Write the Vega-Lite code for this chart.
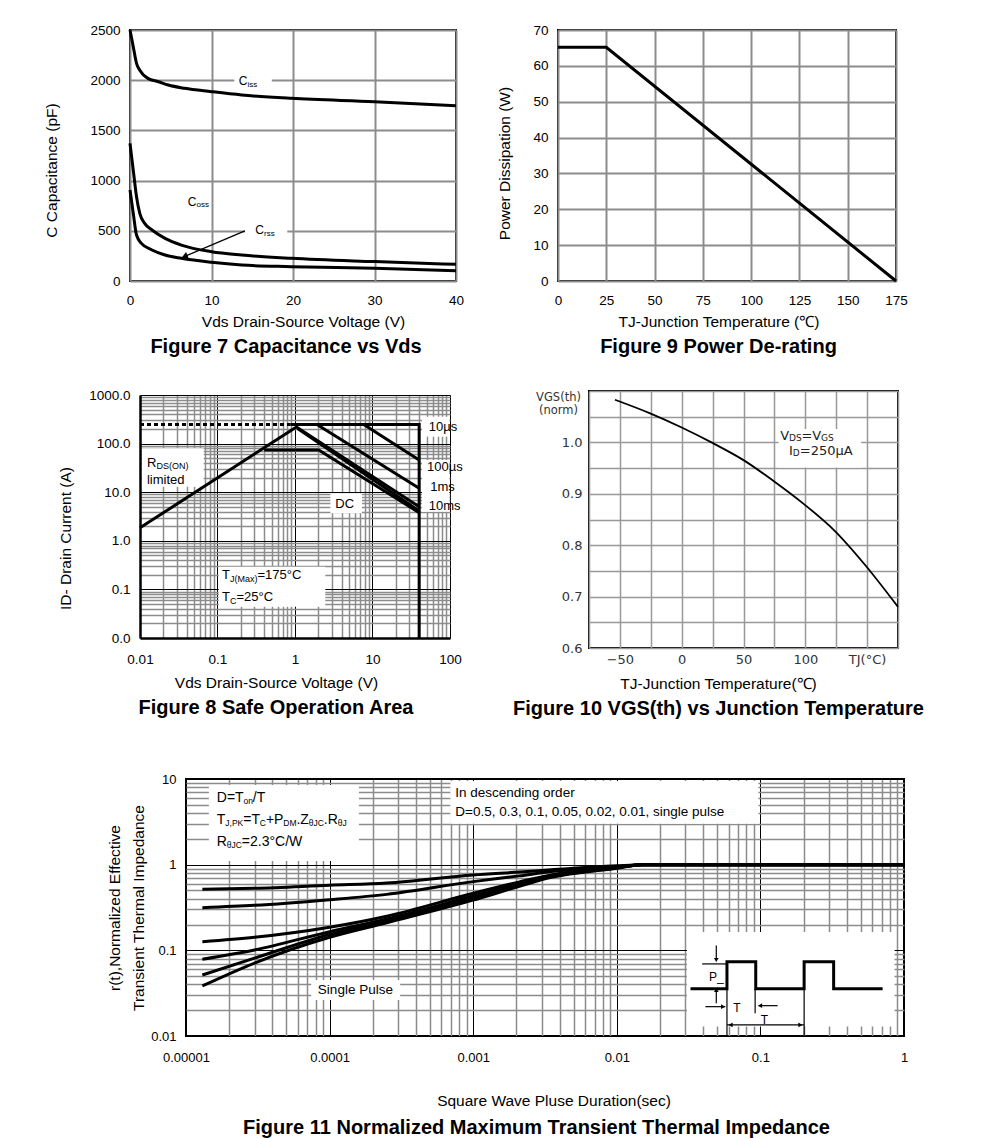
{
"$schema": "https://vega.github.io/schema/vega-lite/v6.json",
"background": "white",
"padding": {"left": 43, "top": 22, "right": 0, "bottom": 0},
"bounds": "flush",
"spacing": 361,
"vconcat": [
{"hconcat": [
{
"width": 326, "height": 251,
"title": {"text": "Figure 7 Capacitance vs Vds", "dx": -7},
"layer": [
{"data": {"values": [{"x":12.8,"x2":17.4,"y":1920,"y2":2080},{"x":14.1,"x2":19.3,"y":430,"y2":580}]},
"mark": {"type": "rect", "fill": "white"},
"encoding": {
"x": {"field": "x", "type": "quantitative", "scale": {"domain": [0, 40], "nice": false}, "axis": {"values": [0,10,20,30,40], "title": "Vds Drain-Source Voltage (V)", "titleX": 173, "titlePadding": 8, "labelPadding": 12}},
"x2": {"field": "x2"},
"y": {"field": "y", "type": "quantitative", "scale": {"domain": [0, 2500], "nice": false}, "axis": {"values": [0,500,1000,1500,2000,2500], "format": "d", "title": "C Capacitance (pF)", "titleY": 140, "titlePadding": 30}},
"y2": {"field": "y2"}}},
{"data": {"values": [
{"s":"Ciss","x":0,"y":2500},{"s":"Ciss","x":0.4,"y":2334},{"s":"Ciss","x":0.8,"y":2168},{"s":"Ciss","x":1.2,"y":2100},{"s":"Ciss","x":2.2,"y":2018},{"s":"Ciss","x":3.5,"y":1985},{"s":"Ciss","x":4.7,"y":1952},{"s":"Ciss","x":6.7,"y":1919},{"s":"Ciss","x":10,"y":1886},{"s":"Ciss","x":13.7,"y":1853},{"s":"Ciss","x":19.8,"y":1819},{"s":"Ciss","x":30,"y":1786},{"s":"Ciss","x":40,"y":1746},
{"s":"Coss","x":0,"y":1371},{"s":"Coss","x":0.4,"y":1105},{"s":"Coss","x":0.8,"y":840},{"s":"Coss","x":1.2,"y":674},{"s":"Coss","x":1.8,"y":574},{"s":"Coss","x":2.7,"y":508},{"s":"Coss","x":4.3,"y":425},{"s":"Coss","x":6.3,"y":358},{"s":"Coss","x":10,"y":292},{"s":"Coss","x":13.7,"y":259},{"s":"Coss","x":19.8,"y":226},{"s":"Coss","x":30,"y":193},{"s":"Coss","x":40,"y":166},
{"s":"Crss","x":0,"y":906},{"s":"Crss","x":0.4,"y":674},{"s":"Crss","x":0.8,"y":458},{"s":"Crss","x":1.4,"y":375},{"s":"Crss","x":2.7,"y":309},{"s":"Crss","x":4.3,"y":259},{"s":"Crss","x":6.3,"y":226},{"s":"Crss","x":10,"y":186},{"s":"Crss","x":13.7,"y":159},{"s":"Crss","x":19.8,"y":143},{"s":"Crss","x":30,"y":126},{"s":"Crss","x":40,"y":103}
]},
"mark": {"type": "line", "color": "black", "strokeWidth": 3, "interpolate": "monotone"},
"encoding": {"x": {"field": "x", "type": "quantitative"}, "y": {"field": "y", "type": "quantitative"}, "detail": {"field": "s", "type": "nominal"}}},
{"data": {"values": [{"x":14.1,"y":500,"x2":6.8,"y2":248}]},
"mark": {"type": "rule", "color": "black", "strokeWidth": 1.3},
"encoding": {"x": {"field": "x", "type": "quantitative"}, "y": {"field": "y", "type": "quantitative"}, "x2": {"field": "x2"}, "y2": {"field": "y2"}}},
{"data": {"values": [{"x":6.7,"y":245}]},
"mark": {"type": "point", "shape": "triangle-up", "angle": 247, "filled": true, "color": "black", "size": 50, "opacity": 1},
"encoding": {"x": {"field": "x", "type": "quantitative"}, "y": {"field": "y", "type": "quantitative"}}},
{"data": {"values": [{"x":13.34,"y":1992,"t":"C"},{"x":7.08,"y":790,"t":"C"},{"x":15.37,"y":508,"t":"C"}]},
"mark": {"type": "text", "align": "left", "baseline": "middle", "fontSize": 12, "color": "black"},
"encoding": {"x": {"field": "x", "type": "quantitative"}, "y": {"field": "y", "type": "quantitative"}, "text": {"field": "t"}}},
{"data": {"values": [{"x":14.42,"y":1957,"t":"iss"},{"x":8.16,"y":757,"t":"oss"},{"x":16.44,"y":473,"t":"rss"}]},
"mark": {"type": "text", "align": "left", "baseline": "middle", "fontSize": 8, "color": "black"},
"encoding": {"x": {"field": "x", "type": "quantitative"}, "y": {"field": "y", "type": "quantitative"}, "text": {"field": "t"}}}
]},
{
"width": 338, "height": 251,
"title": {"text": "Figure 9 Power De-rating", "dx": -8.5},
"data": {"values": [{"x":0,"y":65.2},{"x":25,"y":65.2},{"x":175,"y":0}]},
"mark": {"type": "line", "color": "black", "strokeWidth": 3},
"encoding": {
"x": {"field": "x", "type": "quantitative", "scale": {"domain": [0, 175], "nice": false}, "axis": {"values": [0,25,50,75,100,125,150,175], "title": "TJ-Junction Temperature (℃)", "titleX": 160.5, "titlePadding": 8, "labelPadding": 12}},
"y": {"field": "y", "type": "quantitative", "scale": {"domain": [0, 70], "nice": false}, "axis": {"values": [0,10,20,30,40,50,60,70], "format": "d", "title": "Power Dissipation (W)", "titleY": 133, "titlePadding": 20}}}}
], "spacing": 102, "bounds": "flush"},
{"vconcat": [
{"hconcat": [
{"width": 10, "height": 1, "data": {"values": []}, "mark": "point", "view": {"stroke": null}},
{"hconcat": [
{"vconcat": [
{"width": 10, "height": 4, "data": {"values": []}, "mark": "point", "view": {"stroke": null}},
{
"width": 310, "height": 243,
"view": {"stroke": null},
"title": {"text": "Figure 8 Safe Operation Area", "dx": -19},
"layer": [
{"data": {"values": [{"x":0.0106,"x2":0.0664,"y":13,"y2":80},{"x":2.86,"x2":7.32,"y":3.68,"y2":9.49},{"x":0.1036,"x2":2.46,"y":0.044,"y2":0.293},{"x":43.5,"x2":98,"y":138.7,"y2":357},{"x":43.5,"x2":98,"y":3.97,"y2":46}]},
"mark": {"type": "rect", "fill": "white"},
"encoding": {
"x": {"field": "x", "type": "quantitative", "scale": {"type": "log", "domain": [0.01, 100]}, "axis": {"values": [0.01,0.02,0.03,0.04,0.05,0.06,0.07,0.08,0.09,0.1,0.2,0.3,0.4,0.5,0.6,0.7,0.8,0.9,1,2,3,4,5,6,7,8,9,10,20,30,40,50,60,70,80,90,100], "format": "~f", "labelExpr": "abs(log(datum.value)/LN10-round(log(datum.value)/LN10))<0.001 ? datum.label : ''", "gridColor": {"condition": {"test": "abs(log(datum.value)/LN10-round(log(datum.value)/LN10))<0.001", "value": "black"}, "value": "#8c8c8c"}, "gridWidth": {"condition": {"test": "abs(log(datum.value)/LN10-round(log(datum.value)/LN10))<0.001", "value": 1}, "value": 1.5}, "domain": true, "domainColor": "black", "domainWidth": 2.5, "title": "Vds Drain-Source Voltage (V)", "titleX": 136, "titlePadding": 10, "labelPadding": 14}},
"x2": {"field": "x2"},
"y": {"field": "y", "type": "quantitative", "scale": {"type": "log", "domain": [0.01, 1000]}, "axis": {"values": [0.01,0.02,0.03,0.04,0.05,0.06,0.07,0.08,0.09,0.1,0.2,0.3,0.4,0.5,0.6,0.7,0.8,0.9,1,2,3,4,5,6,7,8,9,10,20,30,40,50,60,70,80,90,100,200,300,400,500,600,700,800,900,1000], "format": ".1f", "labelExpr": "abs(log(datum.value)/LN10-round(log(datum.value)/LN10))<0.001 ? datum.label : ''", "gridColor": {"condition": {"test": "abs(log(datum.value)/LN10-round(log(datum.value)/LN10))<0.001", "value": "black"}, "value": "#8c8c8c"}, "gridWidth": {"condition": {"test": "abs(log(datum.value)/LN10-round(log(datum.value)/LN10))<0.001", "value": 1}, "value": 1.5}, "domain": true, "domainColor": "black", "domainWidth": 2.5, "title": "ID- Drain Current (A)", "titleY": 143, "titlePadding": 15}},
"y2": {"field": "y2"}}},
{"data": {"values": [
{"s":"rds","o":1,"x":0.01,"y":1.85},{"s":"rds","o":2,"x":1.02,"y":215},
{"s":"lim","o":1,"x":0.88,"y":247},{"s":"lim","o":2,"x":40,"y":247},{"s":"lim","o":3,"x":40,"y":0.01},
{"s":"us10","o":1,"x":7.7,"y":247},{"s":"us10","o":2,"x":40,"y":46},
{"s":"us100","o":1,"x":1.92,"y":247},{"s":"us100","o":2,"x":40,"y":12},
{"s":"ms1","o":1,"x":1.02,"y":225},{"s":"ms1","o":2,"x":40,"y":5.0},
{"s":"ms10","o":1,"x":1.08,"y":205},{"s":"ms10","o":2,"x":40,"y":4.1},
{"s":"dc","o":1,"x":0.4,"y":73.6},{"s":"dc","o":2,"x":2.02,"y":73.6},{"s":"dc","o":3,"x":40,"y":3.8}
]},
"mark": {"type": "line", "color": "black", "strokeWidth": 3},
"encoding": {"x": {"field": "x", "type": "quantitative"}, "y": {"field": "y", "type": "quantitative"}, "detail": {"field": "s", "type": "nominal"}, "order": {"field": "o", "type": "quantitative"}}},
{"data": {"values": [{"x":0.01,"y":247},{"x":0.88,"y":247}]},
"mark": {"type": "line", "color": "black", "strokeWidth": 3, "strokeDash": [4, 3]},
"encoding": {"x": {"field": "x", "type": "quantitative"}, "y": {"field": "y", "type": "quantitative"}}},
{"data": {"values": [{"x":0.0123,"y":39.4,"t":"R"},{"x":0.0123,"y":17.8,"t":"limited"},{"x":3.31,"y":5.72,"t":"DC"},{"x":0.1143,"y":0.198,"t":"T"},{"x":0.3272,"y":0.198,"t":"=175°C"},{"x":0.1143,"y":0.0698,"t":"T"},{"x":0.1753,"y":0.0698,"t":"=25°C"},{"x":53.1,"y":222.8,"t":"10µs"},{"x":50.5,"y":32.5,"t":"100µs"},{"x":55.7,"y":13,"t":"1ms"},{"x":53.1,"y":5.2,"t":"10ms"}]},
"mark": {"type": "text", "align": "left", "baseline": "middle", "fontSize": 13, "color": "black"},
"encoding": {"x": {"field": "x", "type": "quantitative"}, "y": {"field": "y", "type": "quantitative"}, "text": {"field": "t"}}},
{"data": {"values": [{"x":0.01628,"y":34.6,"t":"DS(ON)"},{"x":0.1445,"y":0.1676,"t":"J(Max)"},{"x":0.1445,"y":0.0591,"t":"C"}]},
"mark": {"type": "text", "align": "left", "baseline": "middle", "fontSize": 9, "color": "black"},
"encoding": {"x": {"field": "x", "type": "quantitative"}, "y": {"field": "y", "type": "quantitative"}, "text": {"field": "t"}}}
]}
], "spacing": 0, "bounds": "flush"},
{
"width": 309, "height": 257,
"title": {"text": "Figure 10 VGS(th) vs Junction Temperature", "dx": -25},
"resolve": {"axis": {"x": "independent", "y": "independent"}},
"layer": [
{"data": {"values": [{"x":-54,"y":1.083},{"x":-26,"y":1.057},{"x":0,"y":1.029},{"x":24.9,"y":0.999},{"x":49.7,"y":0.966},{"x":74.3,"y":0.925},{"x":98.9,"y":0.880},{"x":123.8,"y":0.828},{"x":147.9,"y":0.763},{"x":175,"y":0.68}]},
"mark": {"type": "line", "color": "black", "strokeWidth": 1.8, "interpolate": "monotone"},
"encoding": {
"x": {"field": "x", "type": "quantitative", "scale": {"domain": [-75, 175], "nice": false}, "axis": {"orient": "bottom", "values": [-75,-50,-25,0,25,50,75,100,125,150,175], "grid": true, "labels": false, "title": null, "gridColor": "#999", "gridWidth": 1.5}},
"y": {"field": "y", "type": "quantitative", "scale": {"domain": [0.6, 1.1], "nice": false}, "axis": {"orient": "left", "values": [0.6,0.65,0.7,0.75,0.8,0.85,0.9,0.95,1.0,1.05,1.1], "grid": true, "labels": false, "title": null, "gridColor": "#999", "gridWidth": 1.5}}}},
{"data": {"values": [{"x":78.4,"x2":145.2,"y":0.951,"y2":1.026}]},
"mark": {"type": "rect", "fill": "white"},
"encoding": {"x": {"field": "x", "type": "quantitative", "axis": null}, "x2": {"field": "x2"}, "y": {"field": "y", "type": "quantitative", "axis": null}, "y2": {"field": "y2"}}},
{"data": {"values": [{"x":79.65,"y":1.0129,"t":"V"},{"x":96.9,"y":1.0129,"t":"=V"},{"x":86.9,"y":0.9836,"t":"I"},{"x":95.5,"y":0.9836,"t":"=250µA"}]},
"mark": {"type": "text", "align": "left", "baseline": "middle", "fontSize": 13, "font": "DejaVu Sans", "color": "#222"},
"encoding": {
"x": {"field": "x", "type": "quantitative", "axis": {"orient": "bottom", "values": [-50,0,50,100,150], "grid": false, "labelExpr": "datum.value == 150 ? 'TJ(°C)' : datum.label", "labelFont": "DejaVu Sans", "labelFontSize": 13, "labelColor": "#333", "labelPadding": 5, "title": "TJ-Junction Temperature(℃)", "titleX": 129, "titlePadding": 10}},
"y": {"field": "y", "type": "quantitative", "axis": {"orient": "left", "values": [0.6,0.7,0.8,0.9,1.0], "grid": false, "format": ".1f", "labelFont": "DejaVu Sans", "labelFontSize": 13, "labelColor": "#333", "labelPadding": 7, "title": ["VGS(th)", "(norm)"], "titleAngle": 0, "titleAlign": "center", "titleBaseline": "top", "titleX": -31, "titleY": 0, "titleFont": "DejaVu Sans", "titleFontSize": 11.5, "titleColor": "#333", "titleLineHeight": 13}},
"text": {"field": "t"}}},
{"data": {"values": [{"x":86.8,"y":1.0085,"t":"DS"},{"x":112.8,"y":1.0085,"t":"GS"},{"x":89.9,"y":0.979,"t":"D"}]},
"mark": {"type": "text", "align": "left", "baseline": "middle", "fontSize": 9, "font": "DejaVu Sans", "color": "#222"},
"encoding": {"x": {"field": "x", "type": "quantitative", "axis": null}, "y": {"field": "y", "type": "quantitative", "axis": null}, "text": {"field": "t"}}}
]}
], "spacing": 449, "bounds": "flush"}
], "spacing": 0, "bounds": "flush"},
{"hconcat": [
{"width": 56, "height": 1, "data": {"values": []}, "mark": "point", "view": {"stroke": null}},
{
"width": 718, "height": 257,
"title": {"text": "Figure 11 Normalized Maximum Transient Thermal Impedance", "dx": -8.5, "offset": 9},
"layer": [
{"data": {"values": [{"x":0.00001443,"x2":0.00016,"y":1.1,"y2":8.5},{"x":0.000693,"x2":0.0968,"y":3.0,"y2":9.5},{"x":0.0000745,"x2":0.00031,"y":0.0264,"y2":0.045},{"x":0.0308,"x2":0.859,"y":0.0129,"y2":0.164}]},
"mark": {"type": "rect", "fill": "white"},
"encoding": {
"x": {"field": "x", "type": "quantitative", "scale": {"type": "log", "domain": [0.00001, 1]}, "axis": {"values": [0.00001,0.00002,0.00003,0.00004,0.00005,0.00006,0.00007,0.00008,0.00009,0.0001,0.0002,0.0003,0.0004,0.0005,0.0006,0.0007,0.0008,0.0009,0.001,0.002,0.003,0.004,0.005,0.006,0.007,0.008,0.009,0.01,0.02,0.03,0.04,0.05,0.06,0.07,0.08,0.09,0.1,0.2,0.3,0.4,0.5,0.6,0.7,0.8,0.9,1], "format": "~f", "labelExpr": "abs(log(datum.value)/LN10-round(log(datum.value)/LN10))<0.001 ? datum.label : ''", "gridColor": {"condition": {"test": "abs(log(datum.value)/LN10-round(log(datum.value)/LN10))<0.001", "value": "black"}, "value": "#8c8c8c"}, "gridWidth": {"condition": {"test": "abs(log(datum.value)/LN10-round(log(datum.value)/LN10))<0.001", "value": 1}, "value": 1.5}, "labelFontSize": 13, "title": "Square Wave Pluse Duration(sec)", "titleX": 367.5, "titlePadding": 29, "labelPadding": 15}},
"x2": {"field": "x2"},
"y": {"field": "y", "type": "quantitative", "scale": {"type": "log", "domain": [0.01, 10]}, "axis": {"values": [0.01,0.02,0.03,0.04,0.05,0.06,0.07,0.08,0.09,0.1,0.2,0.3,0.4,0.5,0.6,0.7,0.8,0.9,1,2,3,4,5,6,7,8,9,10], "format": "~f", "labelExpr": "abs(log(datum.value)/LN10-round(log(datum.value)/LN10))<0.001 ? datum.label : ''", "gridColor": {"condition": {"test": "abs(log(datum.value)/LN10-round(log(datum.value)/LN10))<0.001", "value": "black"}, "value": "#8c8c8c"}, "gridWidth": {"condition": {"test": "abs(log(datum.value)/LN10-round(log(datum.value)/LN10))<0.001", "value": 1}, "value": 1.5}, "labelFontSize": 13, "title": ["r(t),Normalized Effective", "Transient Thermal Impedance"], "titleLineHeight": 24, "titlePadding": 4}},
"y2": {"field": "y2"}}},
{"data": {"values": [
{"s":"0.5","x":0.000013,"y":0.516},{"s":"0.5","x":0.00003,"y":0.53},{"s":"0.5","x":0.0001,"y":0.575},{"s":"0.5","x":0.00025,"y":0.61},{"s":"0.5","x":0.001,"y":0.758},{"s":"0.5","x":0.0021,"y":0.82},{"s":"0.5","x":0.0035,"y":0.87},{"s":"0.5","x":0.01,"y":0.97},{"s":"0.5","x":0.015,"y":1.0},{"s":"0.5","x":1,"y":1.0},
{"s":"0.3","x":0.000013,"y":0.315},{"s":"0.3","x":0.00003,"y":0.335},{"s":"0.3","x":0.0001,"y":0.39},{"s":"0.3","x":0.00025,"y":0.45},{"s":"0.3","x":0.001,"y":0.634},{"s":"0.3","x":0.0021,"y":0.74},{"s":"0.3","x":0.0035,"y":0.83},{"s":"0.3","x":0.01,"y":0.95},{"s":"0.3","x":0.015,"y":1.0},{"s":"0.3","x":1,"y":1.0},
{"s":"0.1","x":0.000013,"y":0.126},{"s":"0.1","x":0.00003,"y":0.142},{"s":"0.1","x":0.0001,"y":0.186},{"s":"0.1","x":0.00025,"y":0.25},{"s":"0.1","x":0.001,"y":0.464},{"s":"0.1","x":0.0021,"y":0.63},{"s":"0.1","x":0.0035,"y":0.76},{"s":"0.1","x":0.01,"y":0.93},{"s":"0.1","x":0.015,"y":1.0},{"s":"0.1","x":1,"y":1.0},
{"s":"0.05","x":0.000013,"y":0.0787},{"s":"0.05","x":0.00003,"y":0.101},{"s":"0.05","x":0.0001,"y":0.165},{"s":"0.05","x":0.00025,"y":0.232},{"s":"0.05","x":0.001,"y":0.43},{"s":"0.05","x":0.0021,"y":0.6},{"s":"0.05","x":0.0035,"y":0.74},{"s":"0.05","x":0.01,"y":0.92},{"s":"0.05","x":0.015,"y":1.0},{"s":"0.05","x":1,"y":1.0},
{"s":"0.02","x":0.000013,"y":0.0516},{"s":"0.02","x":0.00003,"y":0.081},{"s":"0.02","x":0.0001,"y":0.153},{"s":"0.02","x":0.00025,"y":0.22},{"s":"0.02","x":0.001,"y":0.405},{"s":"0.02","x":0.0021,"y":0.58},{"s":"0.02","x":0.0035,"y":0.725},{"s":"0.02","x":0.01,"y":0.915},{"s":"0.02","x":0.015,"y":1.0},{"s":"0.02","x":1,"y":1.0},
{"s":"single","x":0.000013,"y":0.0384},{"s":"single","x":0.00003,"y":0.071},{"s":"single","x":0.0001,"y":0.142},{"s":"single","x":0.00025,"y":0.21},{"s":"single","x":0.001,"y":0.385},{"s":"single","x":0.0021,"y":0.56},{"s":"single","x":0.0035,"y":0.71},{"s":"single","x":0.01,"y":0.91},{"s":"single","x":0.015,"y":1.0},{"s":"single","x":1,"y":1.0}
]},
"mark": {"type": "line", "color": "black", "strokeWidth": 3, "interpolate": "monotone"},
"encoding": {"x": {"field": "x", "type": "quantitative"}, "y": {"field": "y", "type": "quantitative"}, "detail": {"field": "s", "type": "nominal"}}},
{"data": {"values": [{"o":1,"x":0.0326,"y":0.0355},{"o":2,"x":0.0585,"y":0.0355},{"o":3,"x":0.0585,"y":0.0738},{"o":4,"x":0.0928,"y":0.0738},{"o":5,"x":0.0928,"y":0.0355},{"o":6,"x":0.2016,"y":0.0355},{"o":7,"x":0.2016,"y":0.0738},{"o":8,"x":0.3236,"y":0.0738},{"o":9,"x":0.3236,"y":0.0355},{"o":10,"x":0.71,"y":0.0355}]},
"mark": {"type": "line", "color": "black", "strokeWidth": 3},
"encoding": {"x": {"field": "x", "type": "quantitative"}, "y": {"field": "y", "type": "quantitative"}, "order": {"field": "o", "type": "quantitative"}}},
{"data": {"values": [{"x":0.0393,"y":0.0694,"x2":0.0585,"y2":0.0694},{"x":0.0585,"y":0.0738,"x2":0.0585,"y2":0.01},{"x":0.0919,"y":0.0355,"x2":0.0919,"y2":0.01845},{"x":0.2016,"y":0.0355,"x2":0.2016,"y2":0.01},{"x":0.0493,"y":0.1135,"x2":0.0493,"y2":0.0773},{"x":0.0493,"y":0.0241,"x2":0.0493,"y2":0.034},{"x":0.0414,"y":0.022,"x2":0.057,"y2":0.022},{"x":0.0969,"y":0.0226,"x2":0.1318,"y2":0.0226},{"x":0.0585,"y":0.01347,"x2":0.2016,"y2":0.01347}]},
"mark": {"type": "rule", "color": "black", "strokeWidth": 1.2},
"encoding": {"x": {"field": "x", "type": "quantitative"}, "y": {"field": "y", "type": "quantitative"}, "x2": {"field": "x2"}, "y2": {"field": "y2"}}},
{"data": {"values": [{"x":0.0493,"y":0.0773}]},
"mark": {"type": "point", "shape": "triangle-down", "filled": true, "color": "black", "size": 22, "opacity": 1},
"encoding": {"x": {"field": "x", "type": "quantitative"}, "y": {"field": "y", "type": "quantitative"}}},
{"data": {"values": [{"x":0.0493,"y":0.0345}]},
"mark": {"type": "point", "shape": "triangle-up", "filled": true, "color": "black", "size": 22, "opacity": 1},
"encoding": {"x": {"field": "x", "type": "quantitative"}, "y": {"field": "y", "type": "quantitative"}}},
{"data": {"values": [{"x":0.055,"y":0.022},{"x":0.19,"y":0.01347}]},
"mark": {"type": "point", "shape": "triangle-right", "filled": true, "color": "black", "size": 22, "opacity": 1},
"encoding": {"x": {"field": "x", "type": "quantitative"}, "y": {"field": "y", "type": "quantitative"}}},
{"data": {"values": [{"x":0.0995,"y":0.0226},{"x":0.062,"y":0.01347}]},
"mark": {"type": "point", "shape": "triangle-left", "filled": true, "color": "black", "size": 22, "opacity": 1},
"encoding": {"x": {"field": "x", "type": "quantitative"}, "y": {"field": "y", "type": "quantitative"}}},
{"data": {"values": [{"x":0.00001639,"y":5.955,"t":"D=T"},{"x":0.00002922,"y":5.955,"t":"/T"},{"x":0.00001639,"y":3.323,"t":"T"},{"x":0.00002504,"y":3.323,"t":"=T"},{"x":0.00003601,"y":3.323,"t":"+P"},{"x":0.00005874,"y":3.323,"t":".Z"},{"x":0.00009104,"y":3.323,"t":".R"},{"x":0.00001639,"y":1.855,"t":"R"},{"x":0.00002448,"y":1.855,"t":"=2.3°C/W"}]},
"mark": {"type": "text", "align": "left", "baseline": "middle", "fontSize": 14, "color": "black"},
"encoding": {"x": {"field": "x", "type": "quantitative"}, "y": {"field": "y", "type": "quantitative"}, "text": {"field": "t"}}},
{"data": {"values": [{"x":0.00002512,"y":5.463,"t":"on"},{"x":0.00001879,"y":3.066,"t":"J,PK"},{"x":0.00003268,"y":3.066,"t":"C"},{"x":0.00004759,"y":3.066,"t":"DM"},{"x":0.00007155,"y":3.066,"t":"θJC"},{"x":0.0001138,"y":3.066,"t":"θJ"},{"x":0.00001925,"y":1.698,"t":"θJC"}]},
"mark": {"type": "text", "align": "left", "baseline": "middle", "fontSize": 8.5, "color": "black"},
"encoding": {"x": {"field": "x", "type": "quantitative"}, "y": {"field": "y", "type": "quantitative"}, "text": {"field": "t"}}},
{"data": {"values": [{"x":0.0007505,"y":6.81,"t":"In descending order"},{"x":0.0007505,"y":4.087,"t":"D=0.5, 0.3, 0.1, 0.05, 0.02, 0.01, single pulse"},{"x":0.00008285,"y":0.0345,"t":"Single Pulse"}]},
"mark": {"type": "text", "align": "left", "baseline": "middle", "fontSize": 13.5, "color": "black"},
"encoding": {"x": {"field": "x", "type": "quantitative"}, "y": {"field": "y", "type": "quantitative"}, "text": {"field": "t"}}},
{"data": {"values": [{"x":0.0493,"y":0.0493,"t":"P_"},{"x":0.0686,"y":0.0211,"t":"T"},{"x":0.1066,"y":0.0154,"t":"T"}]},
"mark": {"type": "text", "align": "center", "baseline": "middle", "fontSize": 12, "color": "black"},
"encoding": {"x": {"field": "x", "type": "quantitative"}, "y": {"field": "y", "type": "quantitative"}, "text": {"field": "t"}}}
]}
], "spacing": 0, "bounds": "flush"}
], "spacing": 388, "bounds": "flush"}
],
"config": {
"font": "Liberation Sans",
"view": {"stroke": "black", "strokeWidth": 2},
"axis": {"labelFont": "Liberation Sans", "titleFont": "Liberation Sans", "labelFontSize": 13.5, "titleFontSize": 15.5, "titleFontWeight": "normal", "labelColor": "black", "titleColor": "black", "ticks": false, "tickSize": 0, "domain": false, "gridColor": "#8c8c8c", "gridWidth": 2, "gridOpacity": 1, "labelPadding": 10, "labelFlush": false, "labelOverlap": false, "labelBound": false},
"title": {"font": "Liberation Sans", "fontSize": 20, "fontWeight": "bold", "color": "black", "orient": "bottom", "anchor": "middle", "offset": 7}
}
}
